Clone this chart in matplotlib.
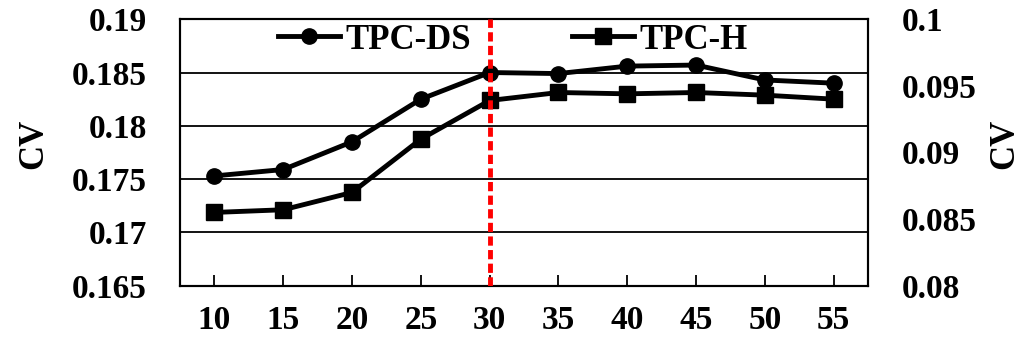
import matplotlib
matplotlib.use('Agg')
import matplotlib.pyplot as plt

plt.rcParams['font.family'] = 'Liberation Serif'
plt.rcParams['font.weight'] = 'bold'

# data
x_labels = ['10', '15', '20', '25', '30', '35', '40', '45', '50', '55']
tpc_ds = [0.1753, 0.1759, 0.1785, 0.1825, 0.1850, 0.1849, 0.1856, 0.1857, 0.1843, 0.1840]
tpc_h = [0.0855, 0.0857, 0.0870, 0.0910, 0.0939, 0.0945, 0.0944, 0.0945, 0.0943, 0.0940]
left_ticks = [0.165, 0.17, 0.175, 0.18, 0.185, 0.19]
left_tick_labels = ['0.165', '0.17', '0.175', '0.18', '0.185', '0.19']
right_ticks = [0.08, 0.085, 0.09, 0.095, 0.1]
right_tick_labels = ['0.08', '0.085', '0.09', '0.095', '0.1']
split_at = '30'

fig = plt.figure(figsize=(10.23, 3.43), dpi=100)
ax = fig.add_axes([0.176, 0.167, 0.6725, 0.777])
ax2 = ax.twinx()

pos = list(range(len(x_labels)))

ax.set_ylim(0.165, 0.19)
ax2.set_ylim(0.08, 0.1)
ax.set_xlim(-0.5, len(x_labels) - 0.5)

for yv in left_ticks[1:-1]:
    ax.axhline(yv, color='black', lw=1.3, zorder=1)

l1, = ax.plot(pos, tpc_ds, color='black', lw=3.5, marker='o', ms=11,
              label='TPC-DS', zorder=3)
l2, = ax2.plot(pos, tpc_h, color='black', lw=3.5, marker='s', ms=11,
               label='TPC-H', zorder=3)

ax2.axvline(x_labels.index(split_at), color='red', lw=3.5,
            dashes=(1.9, 0.9), zorder=4)

ax.set_xticks(pos)
ax.set_xticklabels(x_labels, fontsize=24, fontweight='bold')
ax.tick_params(axis='x', direction='in', length=8, width=1.3, pad=14)
ax.set_yticks(left_ticks)
ax.set_yticklabels(left_tick_labels, fontsize=24, fontweight='bold')
ax.tick_params(axis='y', length=0, pad=24)
ax2.set_yticks(right_ticks)
ax2.set_yticklabels(right_tick_labels, fontsize=24, fontweight='bold')
ax2.tick_params(axis='y', length=0, pad=24)

for a in (ax, ax2):
    for key, spine in a.spines.items():
        spine.set_linewidth(1.5)
        spine.set_color('black')

fig.text(0.033, 0.58, 'CV', rotation=90, fontsize=25, fontweight='bold',
         ha='center', va='center')
fig.text(0.982, 0.58, 'CV', rotation=90, fontsize=25, fontweight='bold',
         ha='center', va='center')

fig.legend([l1, l2], ['TPC-DS', 'TPC-H'], loc='center',
           bbox_to_anchor=(0.501, 0.883), ncol=2, frameon=False,
           prop={'size': 25, 'weight': 'bold'}, handlelength=1.8,
           handletextpad=0.15, columnspacing=2.9, borderpad=0)

fig.savefig('out.png', dpi=100)
